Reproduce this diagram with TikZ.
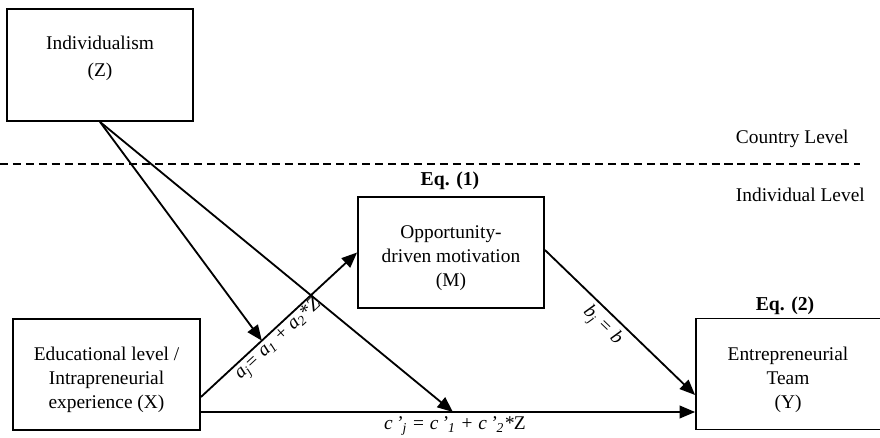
\documentclass[tikz,border=0pt]{standalone}
\usepackage{fontspec}
\setmainfont{Liberation Serif}
\usetikzlibrary{arrows.meta}
\tikzset{
  varbox/.style={draw, line width=1.3pt, inner sep=0pt},
  boxtext/.style={align=center, inner sep=0pt, font=\fontsize{13.8}{17}\selectfont},
  path/.style={line width=1.3pt, -{Triangle[length=11pt,width=9pt]}},
  eqlabel/.style={font=\fontsize{14}{16}\selectfont\bfseries},
  levellabel/.style={anchor=west, font=\fontsize{13.8}{16.3}\selectfont},
  coef/.style={font=\fontsize{13.8}{16.3}\selectfont\itshape}
}
\begin{document}
\begin{tikzpicture}[x=0.025cm, y=-0.025cm]
\useasboundingbox (0,0) rectangle (880,438);
% boxes
\node[varbox, minimum width=186*0.025cm, minimum height=112*0.025cm] (Z) at (100,65) {};
\node[varbox, minimum width=186*0.025cm, minimum height=111*0.025cm] (M) at (451,252.5) {};
\node[varbox, minimum width=187*0.025cm, minimum height=111*0.025cm] (X) at (106.5,374.5) {};
\node[varbox, minimum width=200*0.025cm, minimum height=111*0.025cm] (Y) at (796,374) {};
\node[boxtext] (Ztext) at (100,58) {Individualism\\[2pt](Z)};
\node[boxtext] (Mtext) at (451,258) {Opportunity-\\driven motivation\\(M)};
\node[boxtext] (Xtext) at (106.5,380) {Educational level /\\Intrapreneurial\\experience (X)};
\node[boxtext] (Ytext) at (788,380) {Entrepreneurial\\Team\\(Y)};
\node[eqlabel] (eq1) at (450,181) {Eq. (1)};
\node[eqlabel] (eq2) at (785,306) {Eq. (2)};
% levels
\draw[line width=1.3pt, dash pattern=on 5.7pt off 3.5pt] (0,164) coordinate (dl) -- (860,164) coordinate (dr);
\node[levellabel] (country) at (731,139) {Country Level};
\node[levellabel] (indiv) at (731,195) {Individual Level};
% paths
\coordinate (xa) at (X.east |- 0,397);
\coordinate (xb) at (X.east |- 0,412);
\coordinate (ya) at (Y.west |- 0,395);
\coordinate (yb) at (Y.west |- 0,412);
\draw[path] (xa) -- node[coef, sloped, below, pos=0.45, inner sep=0.5pt] (alab) {a\textsubscript{j}= a\textsubscript{1} + a\textsubscript{2}*Z} coordinate[pos=0.39] (moda) (M.west);
\draw[path] (xb) -- coordinate[pos=0.51] (modc) (yb);
\node[coef, below, inner sep=3pt] (clab) at (455,412) {c\,'\textsubscript{j} = c\,'\textsubscript{1} + c\,'\textsubscript{2}*\textup{Z}};
\draw[path] (M.east |- 0,250) -- node[coef, sloped, below, pos=0.45, inner sep=3pt] (blab) {b\textsubscript{j} = b} (ya);
\draw[path] (Z.south) -- (moda);
\draw[path] (Z.south) -- (modc);
\end{tikzpicture}
\end{document}
